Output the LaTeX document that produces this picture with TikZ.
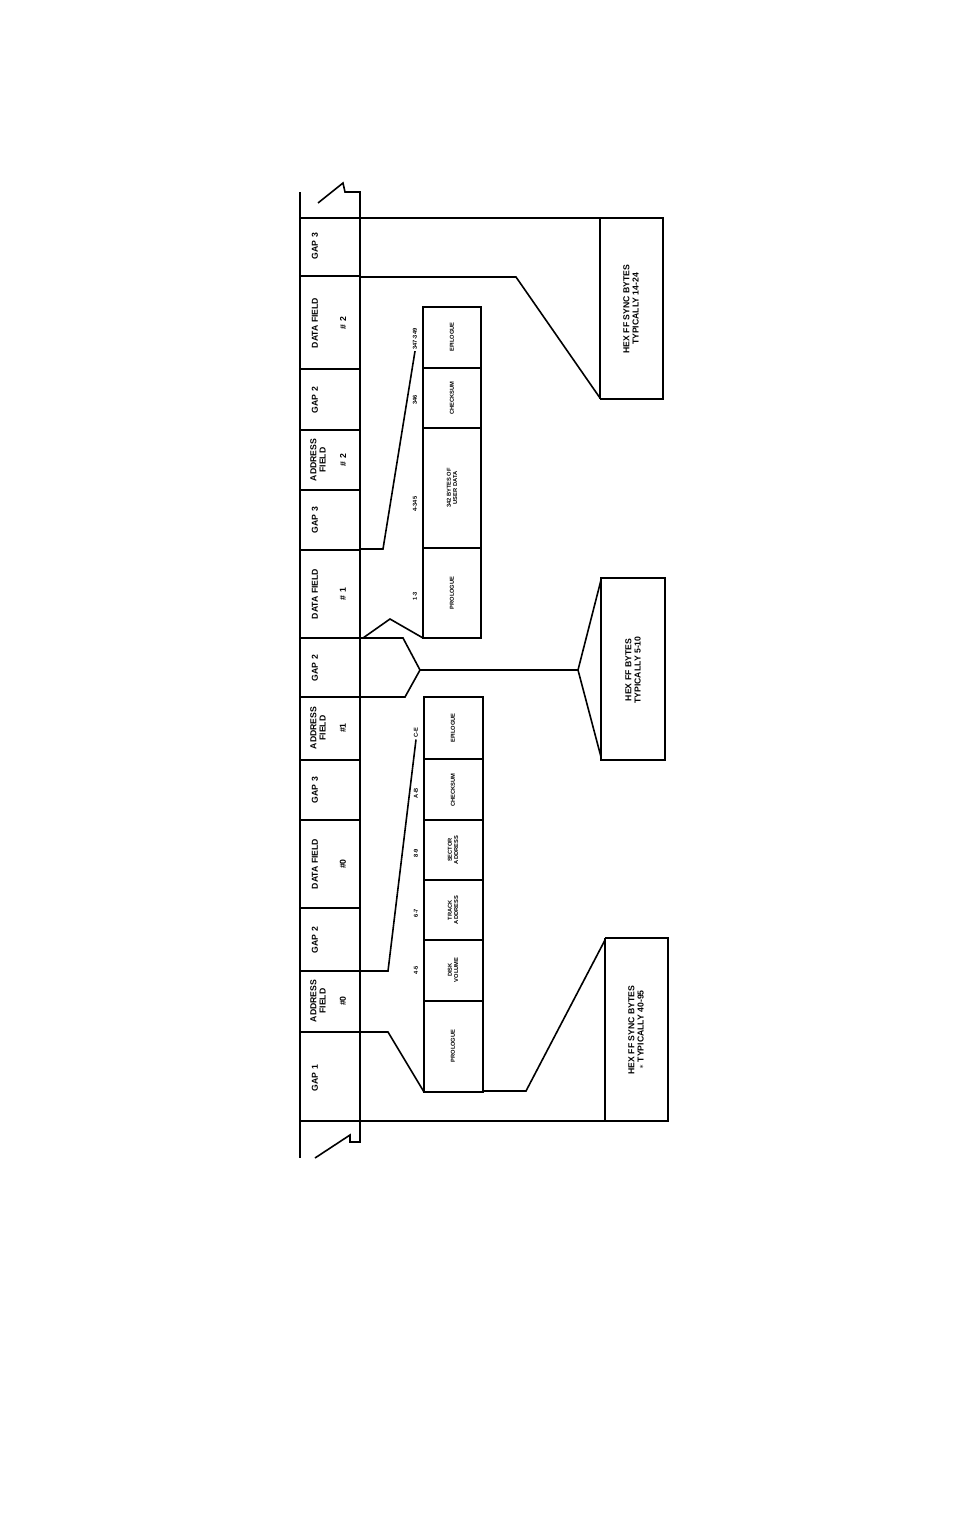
\documentclass[tikz,border=0pt]{standalone}
\usepackage{fontspec}
\setmainfont{Liberation Sans}
\begin{document}
\begin{tikzpicture}[x=0.75pt,y=-0.75pt,line join=miter,
  lbl/.style={rotate=90,font=\bfseries\fontsize{6.5}{7}\selectfont,align=center,inner sep=0pt},
  sml/.style={rotate=90,font=\bfseries\fontsize{4.3}{4.6}\selectfont,align=center,inner sep=0pt},
  thin/.style={line width=1.2pt},
  bold/.style={line width=1.8pt}]
\useasboundingbox (0,0) rectangle (954,1520);
% track strip
\draw[thin] (318,203) -- (343,183) -- (345,192) -- (360,192) -- (360,1142) -- (350,1142) -- (350,1135) -- (315,1158);
\draw[thin] (300,192) -- (300,1158);
\foreach \y in {218,276,369,430,490,550,638,697,760,820,908,971,1032,1121}
  \draw[thin] (300,\y) -- (360,\y);
% strip labels
\node[lbl] (g3a) at (315,246) {GAP 3};
\node[lbl] (df2) at (315,323) {DATA FIELD};
\node[lbl] (df2n) at (343,323) {\# 2};
\node[lbl] (g2a) at (315,400) {GAP 2};
\node[lbl] (af2) at (318,460) {ADDRESS\\FIELD};
\node[lbl] (af2n) at (343,460) {\# 2};
\node[lbl] (g3b) at (315,520) {GAP 3};
\node[lbl] (df1) at (315,594) {DATA FIELD};
\node[lbl] (df1n) at (343,594) {\# 1};
\node[lbl] (g2b) at (315,668) {GAP 2};
\node[lbl] (af1) at (318,728) {ADDRESS\\FIELD};
\node[lbl] (af1n) at (343,728) {\#1};
\node[lbl] (g3c) at (315,790) {GAP 3};
\node[lbl] (df0) at (315,864) {DATA FIELD};
\node[lbl] (df0n) at (343,864) {\#0};
\node[lbl] (g2c) at (315,940) {GAP 2};
\node[lbl] (af0) at (318,1001) {ADDRESS\\FIELD};
\node[lbl] (af0n) at (343,1001) {\#0};
\node[lbl] (g1) at (315,1078) {GAP 1};
% data field expansion
\draw[bold] (423,307) rectangle (481,638);
\foreach \y in {368,428,548} \draw[bold] (423,\y) -- (481,\y);
\node[sml] (dep) at (452,337) {EPILOGUE};
\node[sml] (dck) at (452,398) {CHECKSUM};
\node[sml] (dud) at (452,488) {342 BYTES OF\\USER DATA};
\node[sml] (dpr) at (452,593) {PROLOGUE};
\node[sml] (l13) at (415,596) {1-3};
\node[sml] (l4) at (415,504) {4-345};
\node[sml] (l346) at (415,400) {346};
\node[sml] (l347) at (415,339) {347-349};
\draw[thin] (360,549) -- (383,549) -- ([yshift=-1pt]l347.west);
% address field expansion
\draw[bold] (424,697) rectangle (483,1092);
\foreach \y in {759,820,880,940,1001} \draw[bold] (424,\y) -- (483,\y);
\node[sml] (aep) at (453,728) {EPILOGUE};
\node[sml] (ack) at (453,790) {CHECKSUM};
\node[sml] (asa) at (453,850) {SECTOR\\ADDRESS};
\node[sml] (ata) at (453,910) {TRACK\\ADDRESS};
\node[sml] (adv) at (453,970) {DISK\\VOLUME};
\node[sml] (apr) at (453,1046) {PROLOGUE};
\node[sml] (l45) at (416,970) {4-5};
\node[sml] (l67) at (416,913) {6-7};
\node[sml] (l89) at (416,853) {8-9};
\node[sml] (lab) at (416,793) {A-B};
\node[sml] (lce) at (416,733) {C-E};
\draw[thin] (360,971) -- (388,971) -- ([yshift=-1pt]lce.west);
\draw[thin] (360,1032) -- (388,1032) -- (424,1092);
% bottom box
\draw[bold] (605,938) -- (668,938) -- (668,1121) -- (360,1121);
\draw[thin] (605,938) -- (605,1121);
\draw[thin] (605,940) -- (526,1091) -- (483,1091);
\node[lbl] (b1) at (636,1030) {HEX FF SYNC BYTES\\$*$ TYPICALLY 40-95};
% middle box
\draw[bold] (601,578) rectangle (665,760);
\draw[thin] (360,638) -- (403,638) -- (420,670) -- (405,697) -- (360,697);
\draw[thin] (363,638) -- (390,619) -- (423,638);
\draw[thin] (420,670) -- (578,670) -- (601,580);
\draw[thin] (578,670) -- (601,757);
\node[lbl] (b2) at (633,670) {HEX FF BYTES\\TYPICALLY 5-10};
% top box
\draw[bold] (360,218) -- (663,218) -- (663,399) -- (600,399);
\draw[thin] (600,218) -- (600,399);
\draw[thin] (360,277) -- (516,277) -- (600,398);
\node[lbl] (b3) at (631,309) {HEX FF SYNC BYTES\\TYPICALLY 14-24};
\end{tikzpicture}
\end{document}
